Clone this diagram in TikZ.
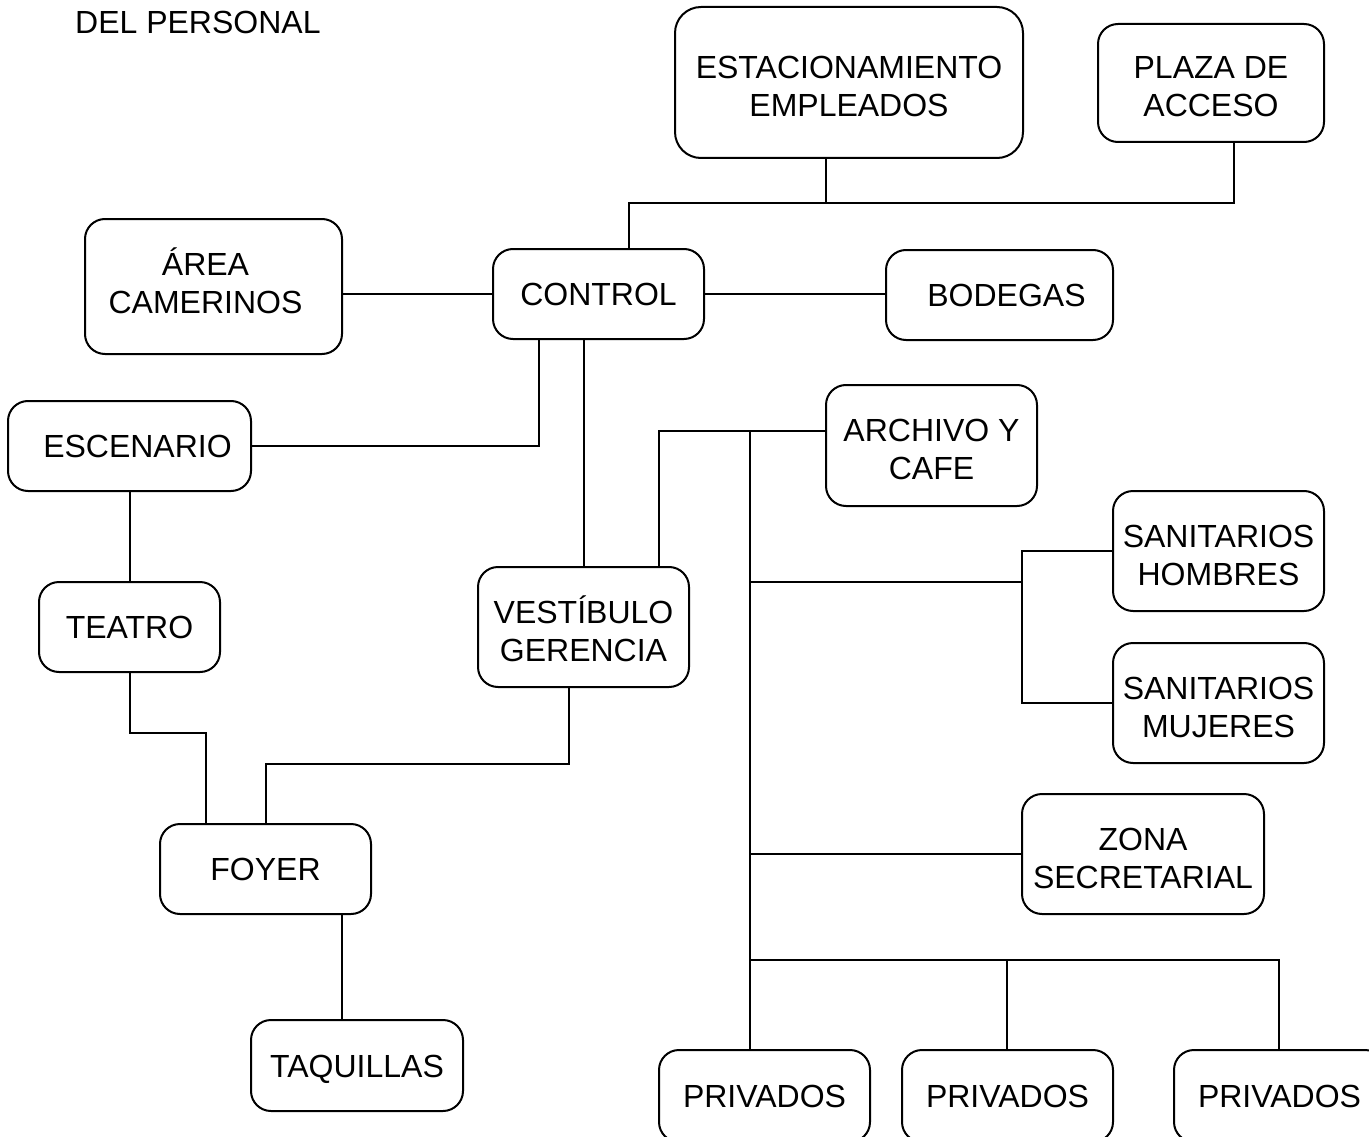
\documentclass[tikz,border=0pt]{standalone}
\usepackage{fontspec}
\setmainfont{Liberation Sans}
\begin{document}
\begin{tikzpicture}[x=1pt,y=-1pt,
  box/.style={draw, line width=2pt, rounded corners=20pt, align=center, inner sep=0pt,
    font=\fontsize{32}{38}\selectfont, text height=23pt, text depth=0pt},
  two/.style={text height=68pt, text depth=0pt},
  conn/.style={line width=2pt}]
\useasboundingbox (0,0) rectangle (1369,1137);
\clip (0,0) rectangle (1369,1137);
\node[anchor=west, inner sep=0pt, font=\fontsize{32}{38}\selectfont] (title) at (75,22) {DEL PERSONAL};
\node[box, two, minimum width=348pt, minimum height=151pt, rounded corners=26pt] (est) at (849,82.5) {ESTACIONAMIENTO\\EMPLEADOS};
\node[box, two, minimum width=226pt, minimum height=118pt] (plaza) at (1211,83) {PLAZA DE\\ACCESO};
\node[box, two, text height=53pt, minimum width=257pt, minimum height=135pt] (area) at (213.5,286.5) {ÁREA\hspace*{16pt}\\CAMERINOS\hspace*{16pt}};
\node[box, minimum width=211pt, minimum height=90pt] (control) at (598.5,294) {CONTROL};
\node[box, minimum width=227pt, minimum height=90pt] (bodegas) at (999.5,295) {\hspace*{14pt}BODEGAS};
\node[box, minimum width=243pt, minimum height=90pt] (escenario) at (129.5,446) {\hspace*{16pt}ESCENARIO};
\node[box, two, minimum width=211pt, minimum height=121pt] (archivo) at (931.5,445.5) {ARCHIVO Y\\CAFE};
\node[box, two, minimum width=211pt, minimum height=120pt] (sanh) at (1218.5,551) {SANITARIOS\\HOMBRES};
\node[box, two, minimum width=211pt, minimum height=120pt] (sanm) at (1218.5,703) {SANITARIOS\\MUJERES};
\node[box, minimum width=181pt, minimum height=90pt] (teatro) at (129.5,627) {TEATRO};
\node[box, two, minimum width=211pt, minimum height=120pt] (vest) at (583.5,627) {VESTÍBULO\\GERENCIA};
\node[box, two, minimum width=242pt, minimum height=120pt] (zona) at (1143,854) {ZONA\\SECRETARIAL};
\node[box, minimum width=211pt, minimum height=90pt] (foyer) at (265.5,869) {FOYER};
\node[box, minimum width=212pt, minimum height=91pt] (taq) at (357,1065.5) {TAQUILLAS};
\node[box, minimum width=211pt, minimum height=92pt] (p1) at (764.5,1096) {PRIVADOS};
\node[box, minimum width=211pt, minimum height=92pt] (p2) at (1007.5,1096) {PRIVADOS};
\node[box, minimum width=211pt, minimum height=92pt] (p3) at (1279.5,1096) {PRIVADOS};
% top connections
\draw[conn] (826,0 |- est.south) -- (826,203);
\draw[conn] (1234,0 |- plaza.south) -- (1234,203) -- (629,203) -- (629,0 |- control.north);
\draw[conn] (area.east |- control.west) -- (control.west);
\draw[conn] (control.east) -- (bodegas.west |- control.east);
\draw[conn] (539,0 |- control.south) -- (539,446) -- (escenario.east);
\draw[conn] (584,0 |- control.south) -- (584,0 |- vest.north);
\draw[conn] (659,0 |- vest.north) -- (659,431) -- (826,431 -| archivo.west);
\draw[conn] (750,431) -- (750,0 |- p1.north);
\draw[conn] (750,582) -- (1022,582);
\draw[conn] (sanh.west) -- (1022,0 |- sanh.west) -- (1022,0 |- sanm.west) -- (sanm.west);
\draw[conn] (750,0 |- zona.west) -- (zona.west);
\draw[conn] (750,960) -- (1279,960) -- (1279,0 |- p3.north);
\draw[conn] (1007,960) -- (1007,0 |- p2.north);
% left side
\draw[conn] (escenario.south) -- (teatro.north);
\draw[conn] (130,0 |- teatro.south) -- (130,733) -- (206,733) -- (206,0 |- foyer.north);
\draw[conn] (569,0 |- vest.south) -- (569,764) -- (266,764) -- (266,0 |- foyer.north);
\draw[conn] (342,0 |- foyer.south) -- (342,0 |- taq.north);
\end{tikzpicture}
\end{document}
